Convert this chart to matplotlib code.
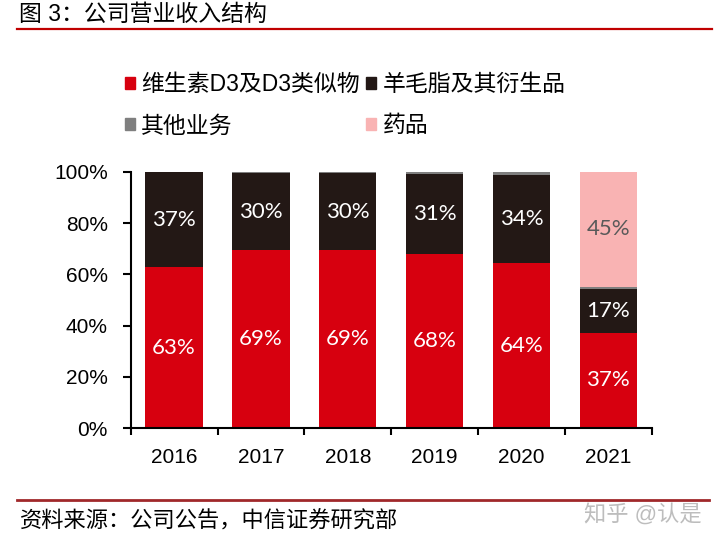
import matplotlib
matplotlib.use("Agg")
import matplotlib.pyplot as plt
import numpy as np

# data (share of revenue, %)
years = ["2016", "2017", "2018", "2019", "2020", "2021"]
vd3 = [62.7, 69.3, 69.3, 68.0, 64.4, 37.3]
lanolin = [37.0, 30.3, 30.2, 31.2, 34.4, 17.0]
other = [0.3, 0.4, 0.5, 0.8, 1.2, 0.9]
drug = [0.0, 0.0, 0.0, 0.0, 0.0, 44.8]
series_names = ["维生素D3及D3类似物", "羊毛脂及其衍生品", "其他业务", "药品"]

colors = ["#D7000F", "#231815", "#7F7F7F", "#F9B3B3"]
cjk = ["Liberation Sans", "Noto Sans CJK SC"]

fig = plt.figure(figsize=(7.2, 5.43), dpi=100)
ax = fig.add_axes([130.7 / 720, 1 - 428.3 / 543, 521 / 720, 256.6 / 543])

x = np.arange(len(years))
w = 0.66
bottom = np.zeros(len(years))
bars = []
for vals, c, name in zip([vd3, lanolin, other, drug], colors, series_names):
    b = ax.bar(x, vals, w, bottom=bottom, color=c, label=name, linewidth=0)
    bars.append((b, np.array(vals), bottom.copy()))
    bottom += np.array(vals)

# value labels (skip the tiny "other" segment and empty ones)
for idx, (b, vals, bot) in enumerate(bars):
    if idx == 2:
        continue
    for xi, v, b0 in zip(x, vals, bot):
        if v < 5:
            continue
        col = "#595959" if idx == 3 else "white"
        ax.text(xi, b0 + v / 2, f"{v:.0f}%", ha="center", va="center",
                color=col, fontsize=16, family="Lato")

ax.set_xlim(-0.5, len(years) - 0.5)
ax.set_ylim(0, 100)
ax.set_yticks(np.arange(0, 101, 20))
ax.set_yticklabels([f"{v}%" for v in range(0, 101, 20)], family=cjk, fontsize=15)
ax.set_xticks(x)
ax.set_xticklabels(years, family=cjk, fontsize=15)
ax.set_xticks(np.arange(-0.5, len(years), 1), minor=True)
ax.tick_params(axis="x", which="major", length=0, pad=14)
ax.tick_params(axis="x", which="minor", length=5, width=1.5, direction="out")
ax.tick_params(axis="y", length=6, width=1.5, pad=10.5, direction="out")
for s in ["top", "right"]:
    ax.spines[s].set_visible(False)
for s in ["left", "bottom"]:
    ax.spines[s].set_linewidth(1.5)
    ax.spines[s].set_color("black")

# legend
handles = [plt.Rectangle((0, 0), 1, 1, color=c) for c in colors]
order = [0, 2, 1, 3]
fig.legend([handles[i] for i in order], [series_names[i] for i in order],
           loc="upper left", bbox_to_anchor=(125 / 720, 1 - 73 / 543), ncol=2,
           frameon=False, prop={"family": cjk, "size": 16.5},
           handlelength=0.43, handleheight=0.43, handletextpad=0.28,
           columnspacing=0.28, labelspacing=0.8, borderpad=0, borderaxespad=0)

# title and source
fig.text(19 / 720, 1 - 14 / 543, "图 3：公司营业收入结构", family=cjk, fontsize=16.5,
         va="center", ha="left", color="black")
fig.add_artist(plt.Line2D([17 / 720, 712 / 720], [1 - 28.5 / 543] * 2, color="#C00000", lw=1.6))
fig.add_artist(plt.Line2D([17 / 720, 709 / 720], [1 - 500 / 543] * 2, color="#A0282A", lw=2))
fig.text(20 / 720, 1 - 522 / 543, "资料来源：公司公告，中信证券研究部", family=cjk,
         fontsize=16, va="center", ha="left", color="black")
fig.text(702 / 720, 1 - 515 / 543, "知乎 @认是", family=cjk, fontsize=16,
         va="center", ha="right", color="#BDBDBD")

fig.savefig("out.png", dpi=100)
